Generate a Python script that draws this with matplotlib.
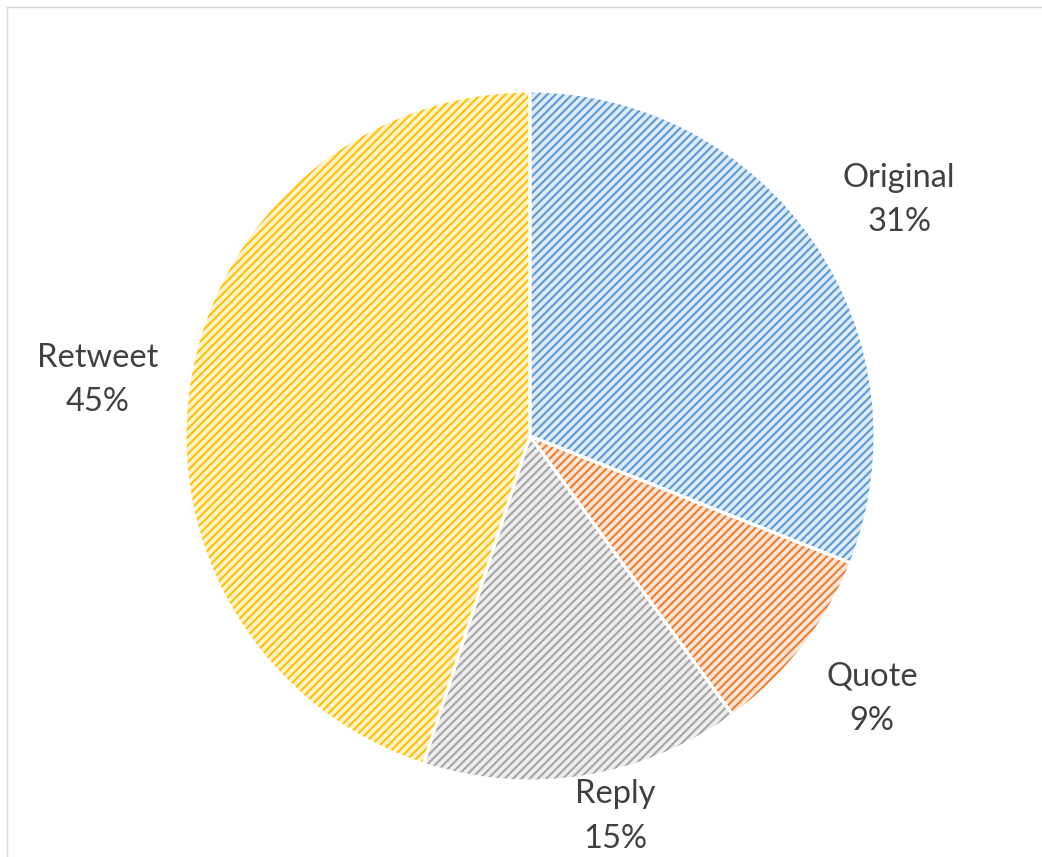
import numpy as np
import matplotlib
matplotlib.use("Agg")
import matplotlib.pyplot as plt
from matplotlib.lines import Line2D

# data
categories = ["Original", "Quote", "Reply", "Retweet"]
shares = [31, 9, 15, 45]

# style
hatch_colors = ["#5B9BD5", "#ED7D31", "#A5A5A5", "#FFC000"]
fill_colors = ["#DEEBF7", "#FBE5D6", "#EDEDED", "#FFF2CC"]
label_dist = [1.27, 1.25, 1.13, 1.265]
label_turn = [-1.6, 0.3, 3.6, 1.6]   # degrees, nudges labels like Excel's best fit

plt.rcParams["hatch.linewidth"] = 1.5

fig = plt.figure(figsize=(10.42, 8.57), dpi=100)
W, H = 1042, 857
cx, cy, r = 530, 436, 345
ax = fig.add_axes([(cx - r) / W, (H - cy - r) / H, 2 * r / W, 2 * r / H])

# hatched fill
wedges, _ = ax.pie(shares, startangle=90, counterclock=False,
                   colors=fill_colors, radius=1,
                   wedgeprops=dict(linewidth=0))
for w, hc in zip(wedges, hatch_colors):
    w.set_edgecolor(hc)
    w.set_hatch("////")
    w.set_linewidth(0)

# white separators on top
ax.pie(shares, startangle=90, counterclock=False, radius=1,
       colors=["none"] * len(shares),
       wedgeprops=dict(edgecolor="white", linewidth=2.2))

ax.set_xlim(-1, 1)
ax.set_ylim(-1, 1)
ax.set_aspect("equal")
ax.axis("off")

for w, name, val, d, t in zip(wedges, categories, shares, label_dist, label_turn):
    ang = np.deg2rad((w.theta1 + w.theta2) / 2 + t)
    ax.text(d * np.cos(ang), d * np.sin(ang), f"{name}\n{val}%",
            ha="center", va="center", fontsize=23.5, color="#404040",
            family=["Lato", "DejaVu Sans"], linespacing=1.6, clip_on=False)

# chart area border (top and left visible)
fig.add_artist(Line2D([7 / W, 1.0], [1 - 6.5 / H, 1 - 6.5 / H],
                      transform=fig.transFigure, color="#D9D9D9", lw=1.0))
fig.add_artist(Line2D([7 / W, 7 / W], [0, 1 - 6.5 / H],
                      transform=fig.transFigure, color="#D9D9D9", lw=1.0))

fig.savefig("out.png", dpi=100, facecolor="white")
